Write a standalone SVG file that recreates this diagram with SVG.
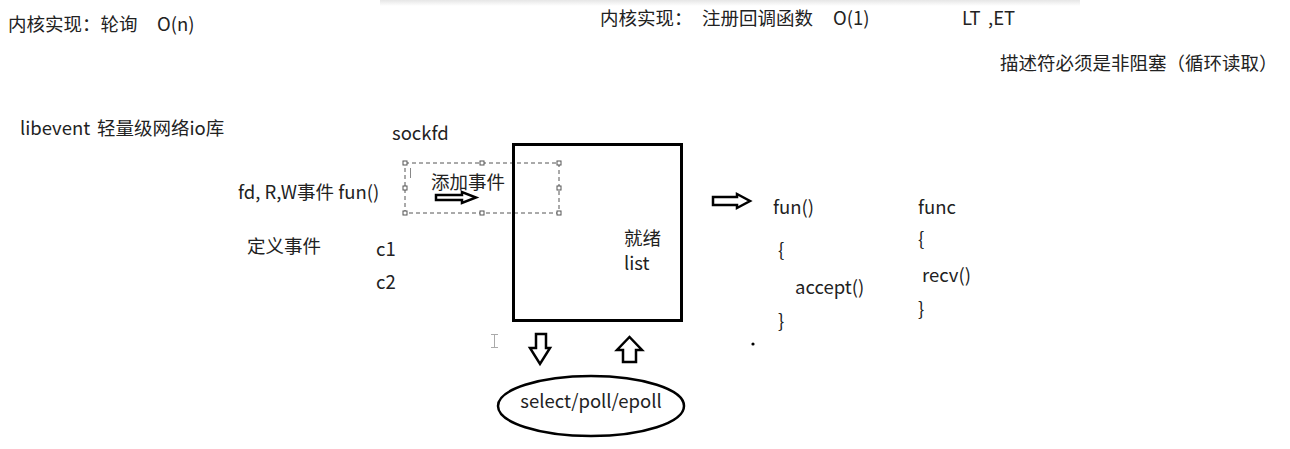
<svg xmlns="http://www.w3.org/2000/svg" width="1290" height="449" viewBox="0 0 1290 449">
<defs>
<linearGradient id="sh" x1="0" y1="0" x2="0" y2="1">
<stop offset="0" stop-color="#e6e6e6"/>
<stop offset="1" stop-color="#ffffff"/>
</linearGradient>
<style>
text{font-family:"Noto Sans CJK SC","Noto Sans",sans-serif;font-size:18.5px;fill:#222}
.blk{fill:#fff;stroke:#000;stroke-width:2.5;stroke-linejoin:miter}
.dash{fill:none;stroke:#555;stroke-width:1;stroke-dasharray:4 3}
.hdl{fill:#fff;stroke:#555;stroke-width:1}
</style>
</defs>
<rect width="1290" height="449" fill="#fff"/>
<rect x="380" y="0" width="700" height="6" fill="url(#sh)"/>

<g id="text-top">
<text y="31"><tspan x="8">内核实现：轮询</tspan><tspan x="157">O(n)</tspan></text>
<text y="25"><tspan x="600">内核实现：</tspan><tspan x="702">注册回调函数</tspan><tspan x="833">O(1)</tspan></text>
<text y="25"><tspan x="962">LT</tspan><tspan x="988">,ET</tspan></text>
<text x="1000" y="70" font-size="19">描述符必须是非阻塞（循环读取）</text>
<text y="135"><tspan x="20">libevent</tspan><tspan x="97">轻量级网络io库</tspan></text>
</g>

<g id="text-left">
<text x="392" y="140">sockfd</text>
<text x="238" y="199">fd, R,W事件 fun()</text>
<text x="247" y="253">定义事件</text>
<text x="376" y="256">c1</text>
<text x="376" y="289">c2</text>
</g>

<g id="add-event">
<rect class="dash" x="405" y="163" width="154" height="50"/>
<rect class="hdl" x="403" y="161" width="4" height="4"/>
<rect class="hdl" x="480" y="161" width="4" height="4"/>
<rect class="hdl" x="557" y="161" width="4" height="4"/>
<rect class="hdl" x="403" y="186" width="4" height="4"/>
<rect class="hdl" x="557" y="186" width="4" height="4"/>
<rect class="hdl" x="403" y="211" width="4" height="4"/>
<rect class="hdl" x="480" y="211" width="4" height="4"/>
<rect class="hdl" x="557" y="211" width="4" height="4"/>
<line x1="410.5" y1="168" x2="410.5" y2="178" stroke="#888" stroke-width="1"/>
<text x="431" y="189">添加事件</text>
</g>

<g id="ready-list">
<rect x="513.5" y="144.5" width="168" height="176" fill="none" stroke="#000" stroke-width="3"/>
<text x="624" y="245">就绪</text>
<text x="624" y="270">list</text>
</g>

<g id="select-poll">
<ellipse cx="591" cy="406" rx="93" ry="30" fill="none" stroke="#000" stroke-width="2.5"/>
<text x="591" y="408" text-anchor="middle">select/poll/epoll</text>
</g>

<g id="callbacks">
<text x="773" y="214">fun()</text>
<text x="778" y="257">{</text>
<text x="795" y="294">accept()</text>
<text x="778" y="328">}</text>
<text x="918" y="214">func</text>
<text x="918" y="246">{</text>
<text x="922" y="282">recv()</text>
<text x="918" y="316">}</text>
</g>

<g id="connectors">
<path class="blk" d="M436,195 L462,195 L462,192 L476,197.5 L462,203 L462,200 L436,200 Z"/>
<path class="blk" d="M713,197 L737,197 L737,194 L750,201 L737,208 L737,205 L713,205 Z"/>
<path class="blk" d="M536,334 L546,334 L546,348 L550,348 L540,364 L530,348 L536,348 Z"/>
<path class="blk" d="M623,362 L636,362 L636,350 L642,350 L629.5,337 L617,350 L623,350 Z"/>
</g>

<g id="marks">
<line x1="494.5" y1="334" x2="494.5" y2="348" stroke="#aaa" stroke-width="1"/>
<line x1="491" y1="334.5" x2="498" y2="334.5" stroke="#aaa" stroke-width="1"/>
<line x1="491" y1="347.5" x2="498" y2="347.5" stroke="#aaa" stroke-width="1"/>
<circle cx="753" cy="344" r="1.6" fill="#000"/>
</g>
</svg>
